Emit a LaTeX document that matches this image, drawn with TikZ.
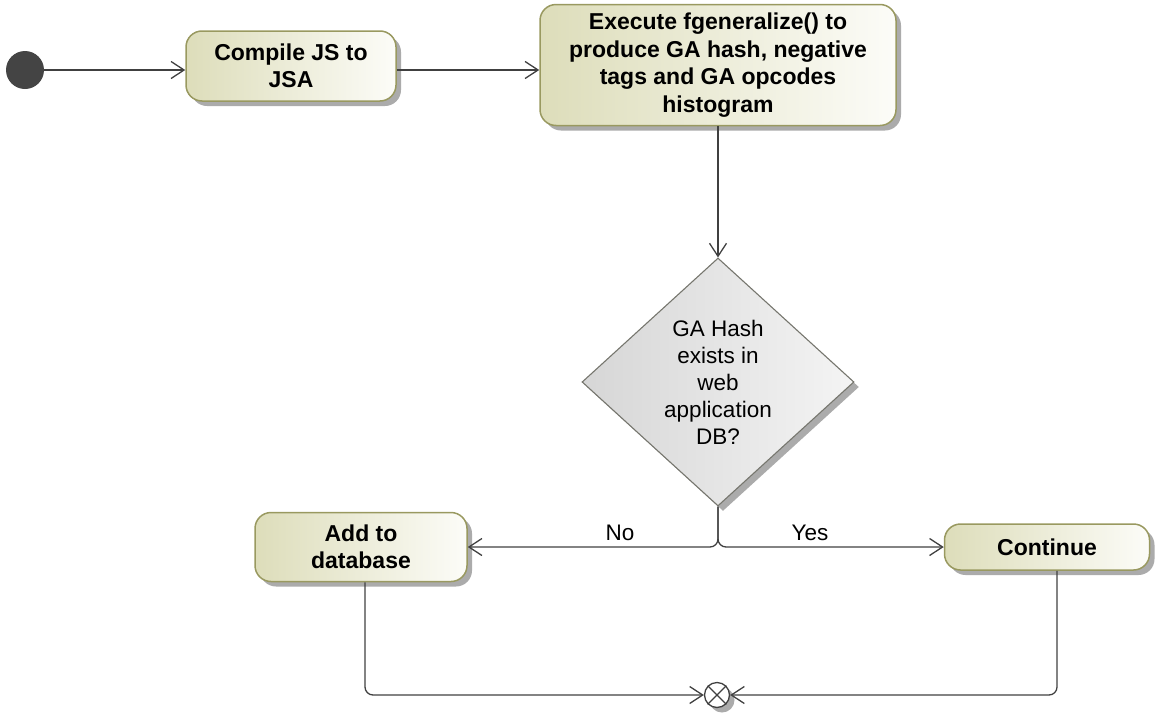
\documentclass[tikz,border=0pt]{standalone}
\usepackage{fontspec}
\setmainfont{Liberation Sans}
\usetikzlibrary{shapes.geometric,shadows,arrows.meta}
\definecolor{lineC}{HTML}{404040}
\definecolor{startC}{HTML}{444444}
\definecolor{boxB}{HTML}{999960}
\definecolor{boxL}{HTML}{DDDDBA}
\definecolor{boxR}{HTML}{FCFCF8}
\definecolor{diaB}{HTML}{76766E}
\definecolor{diaL}{HTML}{D6D6D6}
\definecolor{diaR}{HTML}{F4F4F4}
\definecolor{shadowC}{HTML}{ABABAB}
\begin{document}
\begin{tikzpicture}[x=1pt,y=-1pt,
  conn/.style={draw=lineC,line width=1.3pt,rounded corners=8pt},
  arr/.style={conn,-{Straight Barb[length=13pt,width=17pt,line width=1.3pt]}},
  shad/.style={drop shadow={shadow xshift=5pt,shadow yshift=-5pt,fill=shadowC,opacity=1}},
  actbox/.style={rectangle,rounded corners=16pt,draw=boxB,line width=1.5pt,
    left color=boxL,right color=boxR,shad,
    font=\bfseries\fontsize{23}{27.5}\selectfont,align=center,inner sep=0pt},
  decision/.style={diamond,draw=diaB,line width=1.1pt,left color=diaL,right color=diaR,shad,
    font=\fontsize{22.5}{27}\selectfont,align=center,inner sep=0pt},
  lbl/.style={font=\fontsize{22.5}{27}\selectfont,inner sep=0pt}]
\useasboundingbox (0,0) rectangle (1156,715);

\node[circle,fill=startC,minimum size=38pt,inner sep=0pt] (start) at (25,70) {};
\node[actbox,minimum width=210pt,minimum height=70pt] (compile) at (291,66) {Compile JS to\\JSA};
\node[actbox,minimum width=356pt,minimum height=121pt] (exec) at (718,65) {Execute fgeneralize() to\\produce GA hash, negative\\tags and GA opcodes\\histogram};
\node[decision,minimum width=272pt,minimum height=248pt] (dec) at (718,382) {GA Hash\\exists in\\web\\application\\DB?};
\node[actbox,minimum width=212pt,minimum height=69pt] (add) at (361,547) {Add to\\database};
\node[actbox,minimum width=205pt,minimum height=46pt] (cont) at (1047,547) {Continue};
\node[circle,draw=lineC,line width=1.3pt,fill=white,minimum size=25pt,inner sep=0pt,shad] (merge) at (717,695) {};
\draw[lineC,line width=1.3pt] (merge.45) -- (merge.225) (merge.135) -- (merge.-45);

\draw[arr] (start.east) -- (start.east -| compile.west);
\draw[arr] (compile.east |- start) -- (exec.west |- start);
\draw[arr] (exec.south) -- (dec.north);
\draw[arr] (dec.south) |- (add.east);
\draw[arr] (dec.south) |- (cont.west);
\draw[arr] ([xshift=4pt]add.south) |- (merge.west);
\draw[arr] ([xshift=10pt]cont.south) |- (merge.east);

\node[lbl] (no) at (620,533) {No};
\node[lbl] (yes) at (810,533) {Yes};
\end{tikzpicture}
\end{document}
